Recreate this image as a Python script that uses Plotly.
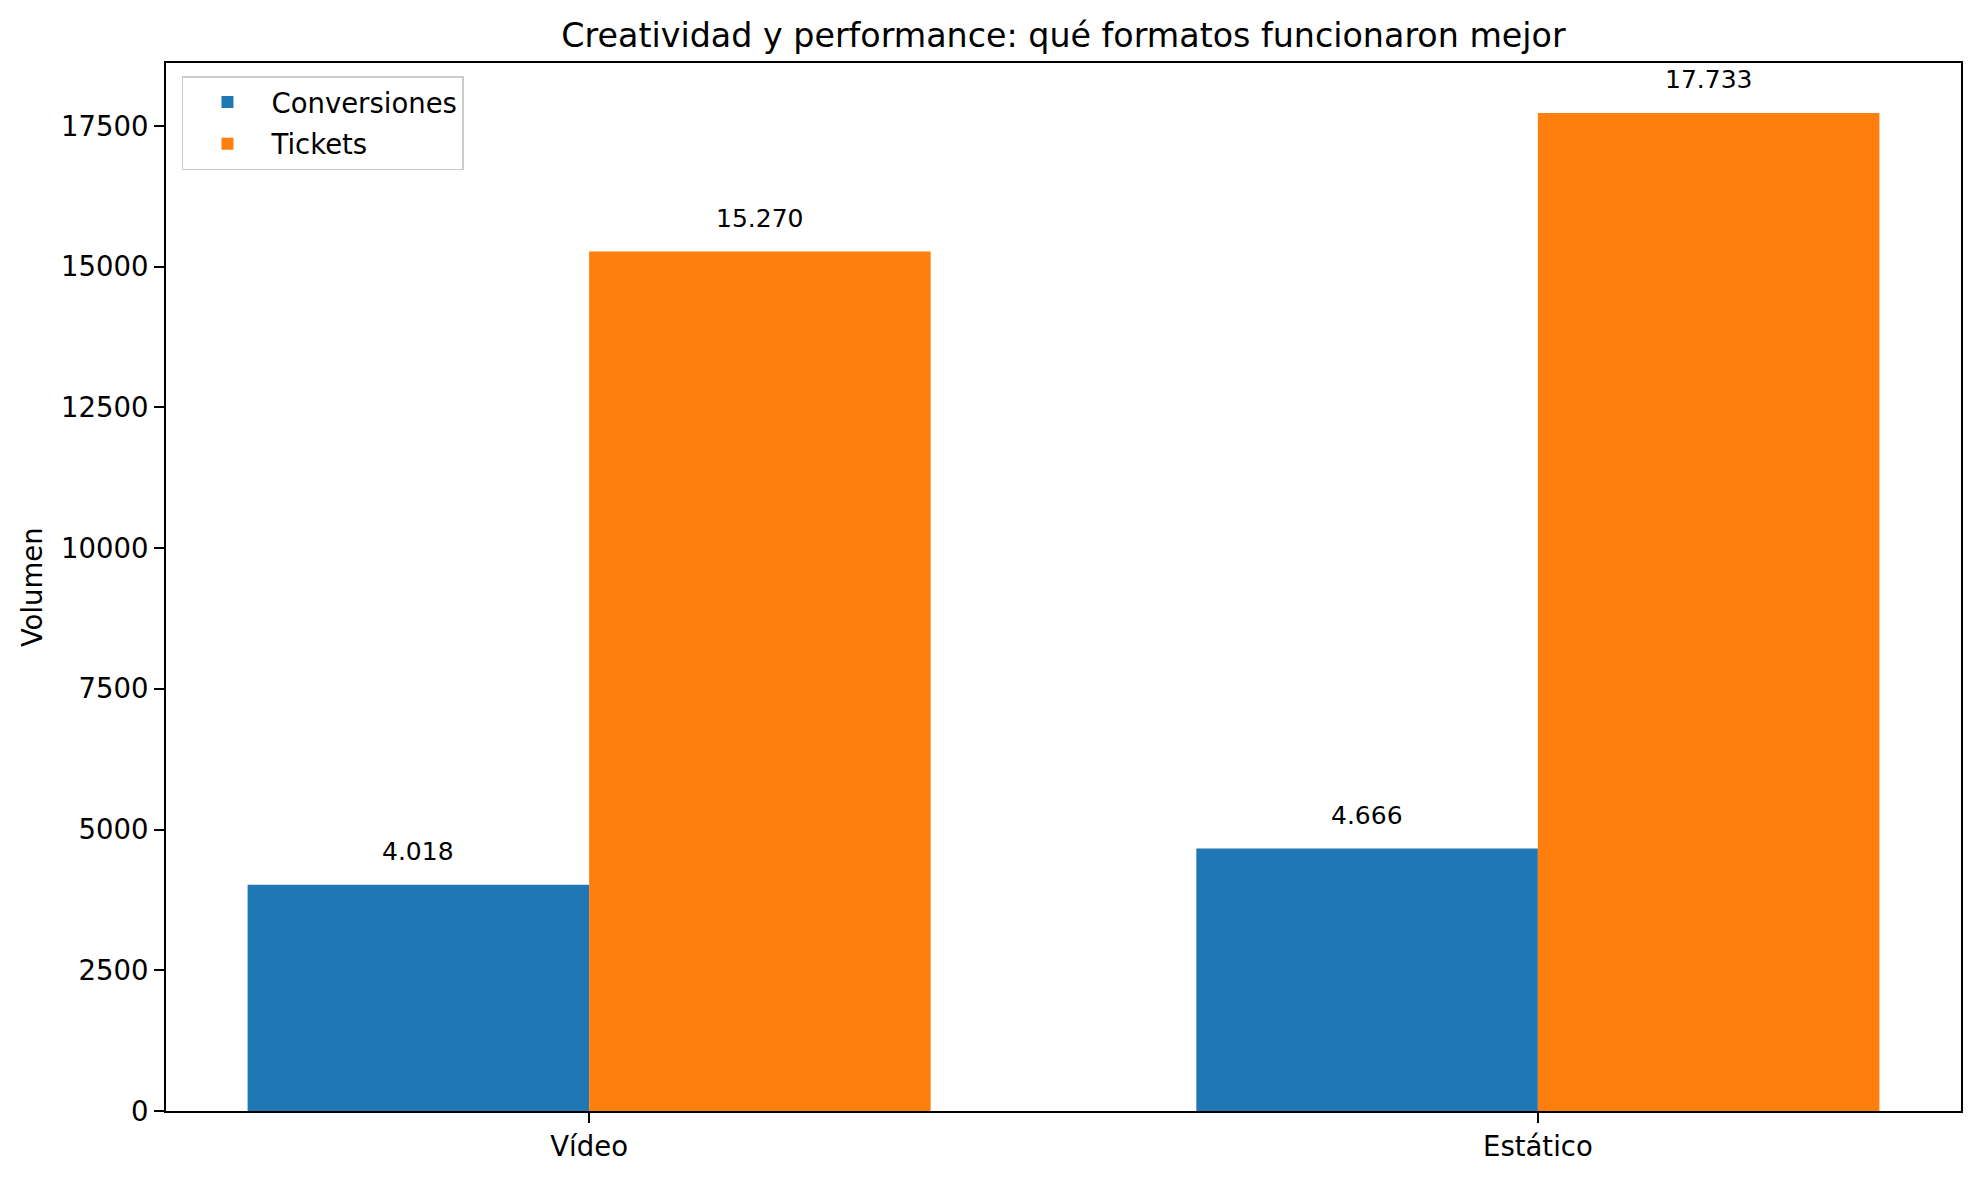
import plotly.graph_objects as go

categories = ["Vídeo", "Estático"]
conversiones = [4018, 4666]
tickets = [15270, 17733]
series_names = ["Conversiones", "Tickets"]
y_ticks = [0, 2500, 5000, 7500, 10000, 12500, 15000, 17500]

FONT = "DejaVu Sans"
blue = "#1f77b4"
orange = "#ff7f0e"

# page body has an 8px default margin; compensate so the plot lands where it should
W, H = 1972, 1170

def fmt(v):
    return f"{v:,}".replace(",", ".")

fig = go.Figure()
fig.add_trace(go.Bar(x=categories, y=conversiones, name=series_names[0], legendgroup="a",
                     marker=dict(color=blue, line=dict(width=0)), hoverinfo="skip"))
fig.add_trace(go.Bar(x=categories, y=tickets, name=series_names[1], legendgroup="b",
                     marker=dict(color=orange, line=dict(width=0)), hoverinfo="skip"))

annotations = []
for i, c in enumerate(categories):
    for vals, off in ((conversiones, -0.18), (tickets, 0.18)):
        annotations.append(dict(
            x=i + off, y=vals[i], xref="x", yref="y",
            text=fmt(vals[i]), showarrow=False,
            yanchor="middle", xanchor="center", yshift=33,
            font=dict(family=FONT, size=25, color="black"),
        ))
annotations.append(dict(
    text="Volumen", textangle=-90, xref="paper", yref="paper",
    x=-0.0746, y=0.5, xanchor="center", yanchor="middle", showarrow=False,
    font=dict(family=FONT, size=27.5, color="black"),
))

fig.update_layout(
    width=W, height=H,
    margin=dict(l=158, r=19, t=55, b=67),
    paper_bgcolor="white", plot_bgcolor="white",
    barmode="group", bargap=0.28, bargroupgap=0,
    font=dict(family=FONT, size=27.5, color="black"),
    title=dict(text="Creatividad y performance: qué formatos funcionaron mejor",
               x=(158 + (W - 19)) / 2 / W, xanchor="center",
               y=1 - 27 / H, yanchor="middle",
               font=dict(family=FONT, size=33.3, color="black")),
    showlegend=True,
    legend=dict(x=0.0089, y=0.9875, xanchor="left", yanchor="top",
                bgcolor="rgba(255,255,255,0.8)", bordercolor="#cccccc", borderwidth=1.5,
                font=dict(family=FONT, size=27.5, color="black"),
                itemwidth=78, tracegroupgap=3),
    annotations=annotations,
)
fig.update_xaxes(type="category", range=[-0.446, 1.446],
                 showline=True, linecolor="black", linewidth=2, mirror=True,
                 ticks="outside", ticklen=10, tickwidth=2, tickcolor="black",
                 showgrid=False, zeroline=False,
                 tickfont=dict(family=FONT, size=27.5, color="black"))
fig.update_yaxes(range=[0, 18620], tickvals=y_ticks, ticktext=[str(v) for v in y_ticks],
                 showline=True, linecolor="black", linewidth=2, mirror=True,
                 ticks="outside", ticklen=10, tickwidth=2, tickcolor="black",
                 showgrid=False, zeroline=False,
                 tickfont=dict(family=FONT, size=27.5, color="black"))

fig.write_html("out.html")
